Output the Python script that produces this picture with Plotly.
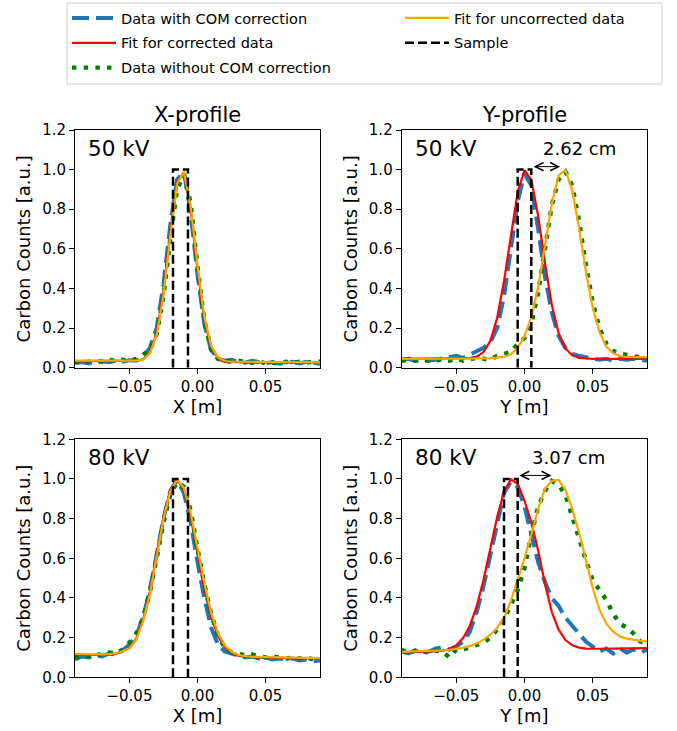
import plotly.graph_objects as go

# Scan positions [m] shared by every profile
POS = [-0.090, -0.085, -0.080, -0.075, -0.070, -0.065, -0.060, -0.055, -0.050, -0.045,
       -0.040, -0.035, -0.030, -0.025, -0.020, -0.015, -0.010, -0.005, 0.000, 0.005,
       0.010, 0.015, 0.020, 0.025, 0.030, 0.035, 0.040, 0.045, 0.050, 0.055,
       0.060, 0.065, 0.070, 0.075, 0.080, 0.085, 0.090]

# ---- 50 kV, X-profile ----
X50_COM = [0.025, 0.028, 0.022, 0.030, 0.032, 0.028, 0.035, 0.030, 0.038, 0.035,
           0.055, 0.100, 0.200, 0.420, 0.720, 0.950, 0.990, 0.780, 0.470, 0.220,
           0.090, 0.045, 0.035, 0.040, 0.030, 0.025, 0.035, 0.030, 0.022, 0.028,
           0.020, 0.025, 0.030, 0.022, 0.030, 0.025, 0.020]
X50_FIT_COM = [0.033, 0.033, 0.033, 0.033, 0.033, 0.033, 0.032, 0.032, 0.032, 0.034,
               0.043, 0.076, 0.175, 0.383, 0.680, 0.936, 0.988, 0.797, 0.496, 0.245,
               0.103, 0.048, 0.031, 0.028, 0.028, 0.028, 0.027, 0.027, 0.027, 0.026,
               0.026, 0.026, 0.026, 0.025, 0.025, 0.025, 0.025]
X50_RAW = [0.030, 0.025, 0.030, 0.035, 0.030, 0.040, 0.035, 0.040, 0.035, 0.045,
           0.065, 0.090, 0.170, 0.360, 0.650, 0.900, 0.975, 0.830, 0.510, 0.240,
           0.090, 0.045, 0.035, 0.030, 0.035, 0.030, 0.025, 0.035, 0.020, 0.025,
           0.020, 0.030, 0.025, 0.030, 0.025, 0.030, 0.030]
X50_FIT_RAW = [0.036, 0.036, 0.036, 0.036, 0.035, 0.035, 0.035, 0.035, 0.035, 0.036,
               0.042, 0.072, 0.165, 0.368, 0.665, 0.928, 0.990, 0.812, 0.515, 0.258,
               0.110, 0.052, 0.034, 0.030, 0.030, 0.029, 0.029, 0.029, 0.028, 0.028,
               0.028, 0.028, 0.027, 0.027, 0.027, 0.027, 0.027]

# ---- 50 kV, Y-profile ----
Y50_COM = [0.040, 0.045, 0.035, 0.040, 0.035, 0.040, 0.045, 0.055, 0.060, 0.050,
           0.065, 0.080, 0.100, 0.130, 0.200, 0.360, 0.600, 0.840, 0.980, 0.920,
           0.700, 0.460, 0.280, 0.160, 0.100, 0.070, 0.060, 0.055, 0.045, 0.040,
           0.045, 0.035, 0.045, 0.040, 0.045, 0.040, 0.035]
Y50_FIT_COM = [0.045, 0.045, 0.045, 0.045, 0.045, 0.045, 0.045, 0.045, 0.045, 0.046,
               0.048, 0.056, 0.079, 0.136, 0.252, 0.438, 0.672, 0.888, 0.997, 0.948,
               0.766, 0.528, 0.318, 0.174, 0.097, 0.062, 0.050, 0.046, 0.045, 0.045,
               0.045, 0.045, 0.045, 0.045, 0.045, 0.045, 0.045]
Y50_RAW = [0.035, 0.040, 0.035, 0.040, 0.035, 0.040, 0.040, 0.035, 0.045, 0.035,
           0.040, 0.050, 0.045, 0.040, 0.060, 0.070, 0.080, 0.120, 0.150, 0.220,
           0.380, 0.600, 0.820, 0.950, 0.990, 0.920, 0.740, 0.520, 0.330, 0.200,
           0.120, 0.085, 0.070, 0.065, 0.060, 0.055, 0.045]
Y50_FIT_RAW = [0.044, 0.044, 0.044, 0.045, 0.045, 0.045, 0.045, 0.045, 0.046, 0.046,
               0.046, 0.046, 0.047, 0.048, 0.050, 0.055, 0.068, 0.100, 0.160, 0.255,
               0.407, 0.615, 0.825, 0.971, 0.998, 0.895, 0.703, 0.487, 0.304, 0.178,
               0.106, 0.073, 0.059, 0.054, 0.053, 0.053, 0.053]

# ---- 80 kV, X-profile ----
X80_COM = [0.090, 0.105, 0.100, 0.110, 0.105, 0.120, 0.115, 0.135, 0.165, 0.210,
           0.300, 0.440, 0.620, 0.800, 0.940, 0.995, 0.930, 0.780, 0.580, 0.400,
           0.250, 0.165, 0.130, 0.120, 0.110, 0.100, 0.105, 0.095, 0.100, 0.090,
           0.095, 0.090, 0.095, 0.085, 0.090, 0.080, 0.085]
X80_FIT_COM = [0.115, 0.114, 0.114, 0.113, 0.113, 0.114, 0.118, 0.131, 0.148, 0.195,
               0.290, 0.430, 0.629, 0.808, 0.945, 0.997, 0.944, 0.807, 0.626, 0.448,
               0.305, 0.208, 0.151, 0.122, 0.109, 0.103, 0.101, 0.100, 0.099, 0.099,
               0.098, 0.098, 0.097, 0.097, 0.096, 0.096, 0.095]
X80_RAW = [0.100, 0.110, 0.105, 0.120, 0.110, 0.125, 0.120, 0.140, 0.175, 0.220,
           0.300, 0.430, 0.600, 0.780, 0.920, 0.985, 0.960, 0.840, 0.650, 0.470,
           0.320, 0.210, 0.150, 0.125, 0.120, 0.110, 0.115, 0.105, 0.100, 0.105,
           0.100, 0.095, 0.100, 0.095, 0.100, 0.090, 0.095]
X80_FIT_RAW = [0.118, 0.117, 0.117, 0.116, 0.116, 0.117, 0.120, 0.131, 0.146, 0.190,
               0.282, 0.420, 0.615, 0.798, 0.940, 0.996, 0.955, 0.830, 0.652, 0.475,
               0.325, 0.222, 0.160, 0.128, 0.113, 0.106, 0.103, 0.102, 0.101, 0.100,
               0.100, 0.099, 0.099, 0.098, 0.098, 0.098, 0.097]

# ---- 80 kV, Y-profile ----
Y80_COM = [0.130, 0.120, 0.135, 0.125, 0.130, 0.145, 0.150, 0.140, 0.155, 0.180,
           0.230, 0.330, 0.460, 0.620, 0.790, 0.930, 0.985, 0.960, 0.860, 0.720,
           0.580, 0.480, 0.400, 0.360, 0.300, 0.260, 0.220, 0.180, 0.155, 0.130,
           0.145, 0.120, 0.145, 0.125, 0.140, 0.125, 0.140]
Y80_FIT_COM = [0.125, 0.126, 0.126, 0.127, 0.128, 0.130, 0.134, 0.143, 0.161, 0.198,
               0.260, 0.359, 0.492, 0.649, 0.810, 0.935, 0.998, 0.976, 0.890, 0.780,
               0.640, 0.470, 0.330, 0.240, 0.188, 0.161, 0.150, 0.145, 0.144, 0.144,
               0.144, 0.145, 0.145, 0.146, 0.146, 0.147, 0.147]
Y80_RAW = [0.140, 0.120, 0.135, 0.130, 0.125, 0.135, 0.130, 0.100, 0.140, 0.140,
           0.150, 0.165, 0.175, 0.200, 0.240, 0.290, 0.360, 0.440, 0.550, 0.720,
           0.860, 0.940, 0.990, 0.970, 0.920, 0.800, 0.700, 0.590, 0.490, 0.440,
           0.390, 0.320, 0.270, 0.250, 0.220, 0.180, 0.170]
Y80_FIT_RAW = [0.128, 0.129, 0.130, 0.131, 0.132, 0.134, 0.136, 0.139, 0.143, 0.149,
               0.157, 0.170, 0.190, 0.215, 0.250, 0.298, 0.385, 0.490, 0.600, 0.720,
               0.850, 0.950, 0.990, 0.995, 0.945, 0.850, 0.730, 0.590, 0.450, 0.340,
               0.270, 0.230, 0.205, 0.195, 0.188, 0.184, 0.180]

# Sample extent [m] in each profile and its normalised height
SAMPLE_X = [-0.018, -0.007]
SAMPLE_Y50 = [-0.005, 0.005]
SAMPLE_Y80 = [-0.015, -0.005]
SAMPLE_TOP = 1.0

# Centre-of-mass shifts between corrected and uncorrected Y fits
SHIFT_LABELS = ["2.62 cm", "3.07 cm"]
SHIFT_ARROWS = [(0.0056, 0.0261, 1.015), (-0.0049, 0.0198, 1.018)]

VOLTAGES = ["50 kV", "50 kV", "80 kV", "80 kV"]
COLUMN_TITLES = ["X-profile", "Y-profile"]
X_TITLES = ["X [m]", "Y [m]", "X [m]", "Y [m]"]
Y_TITLE = "Carbon Counts [a.u.]"

FONT = "DejaVu Sans"
W, H = 677, 731

panels = [
    ("x", "y", X50_COM, X50_FIT_COM, X50_RAW, X50_FIT_RAW, SAMPLE_X),
    ("x2", "y2", Y50_COM, Y50_FIT_COM, Y50_RAW, Y50_FIT_RAW, SAMPLE_Y50),
    ("x3", "y3", X80_COM, X80_FIT_COM, X80_RAW, X80_FIT_RAW, SAMPLE_X),
    ("x4", "y4", Y80_COM, Y80_FIT_COM, Y80_RAW, Y80_FIT_RAW, SAMPLE_Y80),
]

fig = go.Figure()
for i, (xa, ya, com, fit_com, raw, fit_raw, sample) in enumerate(panels):
    first = i == 0
    common = dict(xaxis=xa, yaxis=ya, mode="lines", hoverinfo="skip")
    fig.add_trace(go.Scatter(x=POS, y=com, name="Data with COM correction",
                             line=dict(color="#1f77b4", width=4, dash="17px,7px"),
                             legend="legend", legendgroup="a", showlegend=first, **common))
    fig.add_trace(go.Scatter(x=POS, y=fit_com, name="Fit for corrected data",
                             line=dict(color="red", width=2.2),
                             legend="legend", legendgroup="b", showlegend=first, **common))
    fig.add_trace(go.Scatter(x=POS, y=raw, name="Data without COM correction",
                             line=dict(color="green", width=4.4, dash="4.4px,7.3px"),
                             legend="legend", legendgroup="c", showlegend=first, **common))
    fig.add_trace(go.Scatter(x=POS, y=fit_raw, name="Fit for uncorrected data",
                             line=dict(color="orange", width=2.2),
                             legend="legend2", legendgroup="d", showlegend=first, **common))
    fig.add_trace(go.Scatter(x=[sample[0], sample[0], sample[1], sample[1]],
                             y=[0, SAMPLE_TOP, SAMPLE_TOP, 0], name="Sample",
                             line=dict(color="black", width=2.5, dash="9px,4px"),
                             legend="legend2", legendgroup="e", showlegend=first, **common))

# Axes placement in pixels (left, right, top, bottom)
cols = [(75.0, 320.0), (401.7, 647.3)]
rows = [(130.0, 367.7), (439.3, 677.3)]

axis_style = dict(showline=True, linecolor="black", linewidth=1, mirror=True,
                  ticks="outside", ticklen=5, tickwidth=1, tickcolor="black",
                  showgrid=False, zeroline=False, automargin=False,
                  tickfont=dict(family=FONT, size=15, color="black"))
layout = {}
for i in range(4):
    r, c = divmod(i, 2)
    sx = "" if i == 0 else str(i + 1)
    x0, x1 = cols[c]
    y0, y1 = rows[r]
    layout["xaxis" + sx] = dict(domain=[x0 / W, x1 / W], anchor="y" + sx,
                                range=[-0.09, 0.09], tickvals=[-0.05, 0.0, 0.05],
                                tickformat=".2f",
                                title=dict(text=X_TITLES[i], standoff=4,
                                           font=dict(family=FONT, size=18, color="black")),
                                **axis_style)
    layout["yaxis" + sx] = dict(domain=[1 - y1 / H, 1 - y0 / H], anchor="x" + sx,
                                range=[0, 1.2], tickvals=[0, 0.2, 0.4, 0.6, 0.8, 1.0, 1.2],
                                tickformat=".1f",
                                title=dict(text=Y_TITLE, standoff=6,
                                           font=dict(family=FONT, size=18, color="black")),
                                **axis_style)

annotations = []
for c, t in enumerate(COLUMN_TITLES):
    annotations.append(dict(text=t, xref="paper", yref="paper",
                            x=(cols[c][0] + cols[c][1]) / 2 / W, y=1 - 114.7 / H,
                            xanchor="center", yanchor="middle", showarrow=False,
                            font=dict(family=FONT, size=21, color="black")))
for i, v in enumerate(VOLTAGES):
    sx = "" if i == 0 else str(i + 1)
    annotations.append(dict(text=v, xref="x" + sx, yref="y" + sx, x=-0.082, y=1.108,
                            xanchor="left", yanchor="middle", showarrow=False,
                            font=dict(family=FONT, size=21.5, color="black")))
for k, (label, (a0, a1, ay)) in enumerate(zip(SHIFT_LABELS, SHIFT_ARROWS)):
    sx = "2" if k == 0 else "4"
    annotations.append(dict(text="", xref="x" + sx, yref="y" + sx, axref="x" + sx,
                            ayref="y" + sx, x=a1, y=ay, ax=a0, ay=ay, showarrow=True,
                            arrowhead=5, startarrowhead=5, arrowside="end+start",
                            arrowsize=1.6, startarrowsize=1.6, arrowwidth=1,
                            arrowcolor="black", standoff=0, startstandoff=0))
    annotations.append(dict(text=label, xref="x" + sx, yref="y" + sx,
                            x=0.0403 if k == 0 else 0.0324, y=1.106,
                            xanchor="center", yanchor="middle", showarrow=False,
                            font=dict(family=FONT, size=18, color="black")))

legend_style = dict(font=dict(family=FONT, size=14.5, color="black"),
                    bgcolor="rgba(0,0,0,0)", borderwidth=0, itemwidth=44,
                    tracegroupgap=3, xanchor="left", yanchor="top", orientation="v")

fig.update_layout(
    width=W, height=H, margin=dict(l=0, r=0, t=0, b=0, autoexpand=False),
    paper_bgcolor="white", plot_bgcolor="white",
    font=dict(family=FONT, color="black"),
    annotations=annotations,
    legend=dict(x=67 / W, y=1 - 2 / H, **legend_style),
    legend2=dict(x=400 / W, y=1 - 2 / H, **legend_style),
    shapes=[dict(type="rect", xref="paper", yref="paper",
                 x0=67 / W, x1=662 / W, y0=1 - 84 / H, y1=1 - 3 / H,
                 line=dict(color="#cccccc", width=1), fillcolor="rgba(0,0,0,0)")],
    **layout,
)

fig.write_html("out.html")
